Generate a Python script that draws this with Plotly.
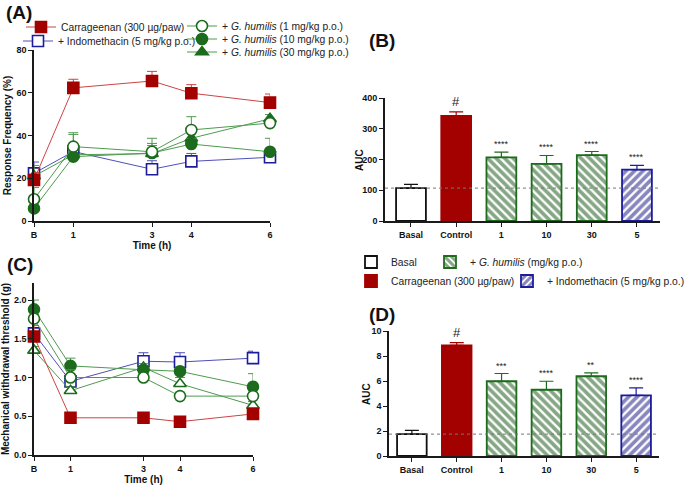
import plotly.graph_objects as go

W, H = 685, 485

# ---- data ----
time_h = [0, 1, 3, 4, 6]
time_labels = ['B', '1', '3', '4', '6']

# (A) response frequency (%): mean and upper SEM
freq_carr = [19.2, 62.3, 65.5, 59.8, 55.4]
freq_carr_err = [3.5, 4.0, 4.5, 4.0, 4.0]
freq_indo = [22.3, 32.5, 24.2, 27.9, 29.8]
freq_indo_err = [5.3, 3.0, 4.0, 3.7, 2.0]
freq_g1 = [10.2, 34.8, 32.4, 42.6, 45.8]
freq_g1_err = [5.5, 6.5, 6.3, 6.2, 2.0]
freq_g10 = [5.9, 30.1, 31.8, 36.0, 32.4]
freq_g10_err = [3.5, 3.0, 3.5, 2.5, 6.3]
freq_g30 = [21.0, 31.0, 31.5, 38.7, 47.8]
freq_g30_err = [5.0, 9.5, 4.8, 4.0, 2.0]

# (C) mechanical withdrawal threshold (g): mean and upper SEM
thr_carr = [1.53, 0.48, 0.48, 0.43, 0.53]
thr_carr_err = [0.14, 0.02, 0.02, 0.02, 0.03]
thr_indo = [1.57, 0.95, 1.21, 1.20, 1.25]
thr_indo_err = [0.05, 0.06, 0.11, 0.12, 0.09]
thr_g1 = [1.76, 1.00, 1.00, 0.76, 0.76]
thr_g1_err = [0.05, 0.10, 0.05, 0.05, 0.05]
thr_g10 = [1.88, 1.15, 1.10, 1.08, 0.88]
thr_g10_err = [0.12, 0.10, 0.05, 0.05, 0.17]
thr_g30 = [1.35, 0.83, 1.13, 0.92, 0.64]
thr_g30_err = [0.05, 0.05, 0.05, 0.08, 0.05]

# (B) / (D) area under the curve
bar_cats = ['Basal', 'Control', '1', '10', '30', '5']
auc_freq = [107, 342, 207, 186, 214, 167]
auc_freq_err = [12, 13, 17, 27, 12, 14]
auc_freq_sig = ['', '#', '****', '****', '****', '****']
auc_thr = [1.75, 8.85, 5.98, 5.30, 6.38, 4.85]
auc_thr_err = [0.30, 0.22, 0.62, 0.68, 0.27, 0.60]
auc_thr_sig = ['', '#', '***', '****', '**', '****']

RED, RED_L = '#a30000', '#cc4444'
BLUE, BLUE_L = '#1c1c9c', '#5050b8'
GREEN, GREEN_L = '#1d6b1d', '#4f9a4f'
FONT = 'Liberation Sans, Arial, sans-serif'


def px_x(p):
    return p / W


def px_y(p):
    return 1 - p / H


fig = go.Figure()


def line_trace(y, err, name, color, lcolor, symbol, fill, xa, ya, legend, show):
    fig.add_trace(go.Scatter(
        x=time_h, y=y, name=name, mode='lines+markers',
        line=dict(color=lcolor, width=1),
        marker=dict(symbol=symbol, size=11, color=fill,
                    line=dict(color=color, width=1.6)),
        error_y=dict(type='data', array=err, arrayminus=[0] * len(err),
                     symmetric=False, color=lcolor, thickness=1, width=5),
        xaxis=xa, yaxis=ya, cliponaxis=False,
        legend=legend, showlegend=show,
    ))


# Panel A
line_trace(freq_indo, freq_indo_err, '+ Indomethacin (5 mg/kg p.o.)', BLUE, BLUE_L,
           'square', 'white', 'x', 'y', 'legend2', True)
line_trace(freq_g30, freq_g30_err, '+ <i>G. humilis</i> (30 mg/kg p.o.)', GREEN, GREEN_L,
           'triangle-up', GREEN, 'x', 'y', 'legend5', True)
line_trace(freq_g10, freq_g10_err, '+ <i>G. humilis</i> (10 mg/kg p.o.)', GREEN, GREEN_L,
           'circle', GREEN, 'x', 'y', 'legend4', True)
line_trace(freq_g1, freq_g1_err, '+ <i>G. humilis</i> (1 mg/kg p.o.)', GREEN, GREEN_L,
           'circle', 'white', 'x', 'y', 'legend3', True)
line_trace(freq_carr, freq_carr_err, 'Carrageenan (300 µg/paw)', RED, RED_L,
           'square', RED, 'x', 'y', 'legend', True)

# Panel C
line_trace(thr_indo, thr_indo_err, 'Indo', BLUE, BLUE_L, 'square', 'white', 'x3', 'y3', 'legend', False)
line_trace(thr_g30, thr_g30_err, 'G30', GREEN, GREEN_L, 'triangle-up', 'white', 'x3', 'y3', 'legend', False)
line_trace(thr_g10, thr_g10_err, 'G10', GREEN, GREEN_L, 'circle', GREEN, 'x3', 'y3', 'legend', False)
line_trace(thr_g1, thr_g1_err, 'G1', GREEN, GREEN_L, 'circle', 'white', 'x3', 'y3', 'legend', False)
line_trace(thr_carr, thr_carr_err, 'Carr', RED, RED_L, 'square', RED, 'x3', 'y3', 'legend', False)

# Panels B and D (bars)
groups = [
    (slice(0, 1), 'Basal', 'white', '#111111', '', 'legend6'),
    (slice(1, 2), 'Carrageenan (300 µg/paw)', RED, RED, '', 'legend7'),
    (slice(2, 5), '+ <i>G. humilis</i> (mg/kg p.o.)', 'white', GREEN, '\\', 'legend8'),
    (slice(5, 6), '+ Indomethacin (5 mg/kg p.o.)', 'white', BLUE, '/', 'legend9'),
]
for vals, errs, xa, ya, show in [(auc_freq, auc_freq_err, 'x2', 'y2', True),
                                 (auc_thr, auc_thr_err, 'x4', 'y4', False)]:
    for sl, name, fill, edge, shape, leg in groups:
        e = errs[sl]
        stripe = {GREEN: '#0e4f0e', BLUE: '#10107e'}.get(edge, edge)
        fig.add_trace(go.Bar(
            x=bar_cats[sl], y=vals[sl], name=name, width=0.66,
            marker=dict(color=fill, line=dict(color=edge, width=1.8),
                        pattern=dict(shape=shape, fgcolor=stripe, bgcolor='white',
                                     size=6, solidity=0.62)),
            error_y=dict(type='data', array=e, arrayminus=[0] * len(e), symmetric=False,
                         color=edge, thickness=1.2, width=7),
            xaxis=xa, yaxis=ya, legend=leg, showlegend=show,
        ))

# significance marks (x given as category index)
for vals, errs, sig, xa, ya in [(auc_freq, auc_freq_err, auc_freq_sig, 'x2', 'y2'),
                                (auc_thr, auc_thr_err, auc_thr_sig, 'x4', 'y4')]:
    for i, (v, e, s) in enumerate(zip(vals, errs, sig)):
        if not s:
            continue
        fig.add_annotation(x=i, y=v + e, xref=xa, yref=ya, text=s, showarrow=False,
                           yanchor='bottom', yshift=1,
                           font=dict(size=13 if s == '#' else 9, color='#222'))

# basal dotted reference
for vals, ya, xa in [(auc_freq, 'y2', 'x2'), (auc_thr, 'y4', 'x4')]:
    fig.add_shape(type='line', xref=f'{xa} domain', x0=0, x1=1, yref=ya,
                  y0=vals[0], y1=vals[0], line=dict(color='#777', width=1, dash='dot'),
                  layer='above')

# panel labels
for lab, x, y in [('(A)', 4, 12), ('(B)', 367, 40), ('(C)', 5, 264), ('(D)', 367, 314)]:
    fig.add_annotation(text=f'<b>{lab}</b>', x=px_x(x), y=px_y(y), xref='paper', yref='paper',
                       xanchor='left', yanchor='middle', showarrow=False,
                       font=dict(size=19, color='#111'))

axis_common = dict(showline=True, linecolor='#1a1a1a', linewidth=1.6, ticks='outside',
                   ticklen=4, tickwidth=1.4, tickcolor='#1a1a1a', showgrid=False,
                   zeroline=False, mirror=False, automargin=False,
                   tickfont=dict(family=FONT, size=9, color='#111', weight='bold'))
title_font = dict(family=FONT, size=10, color='#111', weight='bold')

# AUC titles sit closer to their tick labels than plotly's standoff allows
for x, y in [(360, 160), (366, 394)]:
    fig.add_annotation(text='AUC', x=px_x(x), y=px_y(y), xref='paper', yref='paper',
                       textangle=-90, showarrow=False, xanchor='center', yanchor='middle',
                       font=title_font)

fig.update_layout(
    width=W, height=H, margin=dict(l=0, r=0, t=0, b=0, autoexpand=False),
    paper_bgcolor='white', plot_bgcolor='white',
    font=dict(family=FONT, color='#222'),
    barmode='overlay',
    xaxis=dict(axis_common, domain=[px_x(34), px_x(270)], anchor='y', range=[0, 6],
               tickvals=time_h, ticktext=time_labels,
               title=dict(text='Time (h)', font=title_font, standoff=2)),
    yaxis=dict(axis_common, domain=[px_y(221), px_y(50)], anchor='x', range=[0, 80],
               tickvals=[0, 20, 40, 60, 80],
               title=dict(text='Response Frequency (%)', font=title_font, standoff=3)),
    xaxis2=dict(axis_common, domain=[px_x(385), px_x(660)], anchor='y2', type='category',
                categoryorder='array', categoryarray=bar_cats, range=[-0.575, 5.51]),
    yaxis2=dict(axis_common, domain=[px_y(221), px_y(98)], anchor='x2', range=[0, 400],
                tickvals=[0, 100, 200, 300, 400]),
    xaxis3=dict(axis_common, domain=[px_x(34), px_x(253)], anchor='y3', range=[0, 6],
                tickvals=time_h, ticktext=time_labels,
                title=dict(text='Time (h)', font=title_font, standoff=2)),
    yaxis3=dict(axis_common, domain=[px_y(455), px_y(283)], anchor='x3', range=[0, 2.22],
                tickvals=[0, 0.5, 1.0, 1.5, 2.0], tickformat='.1f',
                title=dict(text='Mechanical withdrawal threshold (g)', font=title_font, standoff=3)),
    xaxis4=dict(axis_common, domain=[px_x(389), px_x(659)], anchor='y4', type='category',
                categoryorder='array', categoryarray=bar_cats, range=[-0.51, 5.51]),
    yaxis4=dict(axis_common, domain=[px_y(456), px_y(331)], anchor='x4', range=[0, 10],
                tickvals=[0, 2, 4, 6, 8, 10]),
)

legend_common = dict(bgcolor='rgba(0,0,0,0)', borderwidth=0, xanchor='left', yanchor='middle',
                     itemwidth=30, font=dict(family=FONT, size=10.3, color='#222'))
legend_pos = {
    'legend': (21, 27), 'legend2': (18, 41),
    'legend3': (182, 26), 'legend4': (182, 39), 'legend5': (182, 52),
    'legend6': (351, 262), 'legend7': (351, 281),
    'legend8': (430, 262), 'legend9': (507, 281),
}
fig.update_layout({k: dict(legend_common, x=px_x(x), y=px_y(y))
                   for k, (x, y) in legend_pos.items()})

# the page body has a default 8px margin; drop it so the figure fills the window
fig.write_html('out.html', config={'displayModeBar': False},
               post_script="document.body.style.margin='0';")
